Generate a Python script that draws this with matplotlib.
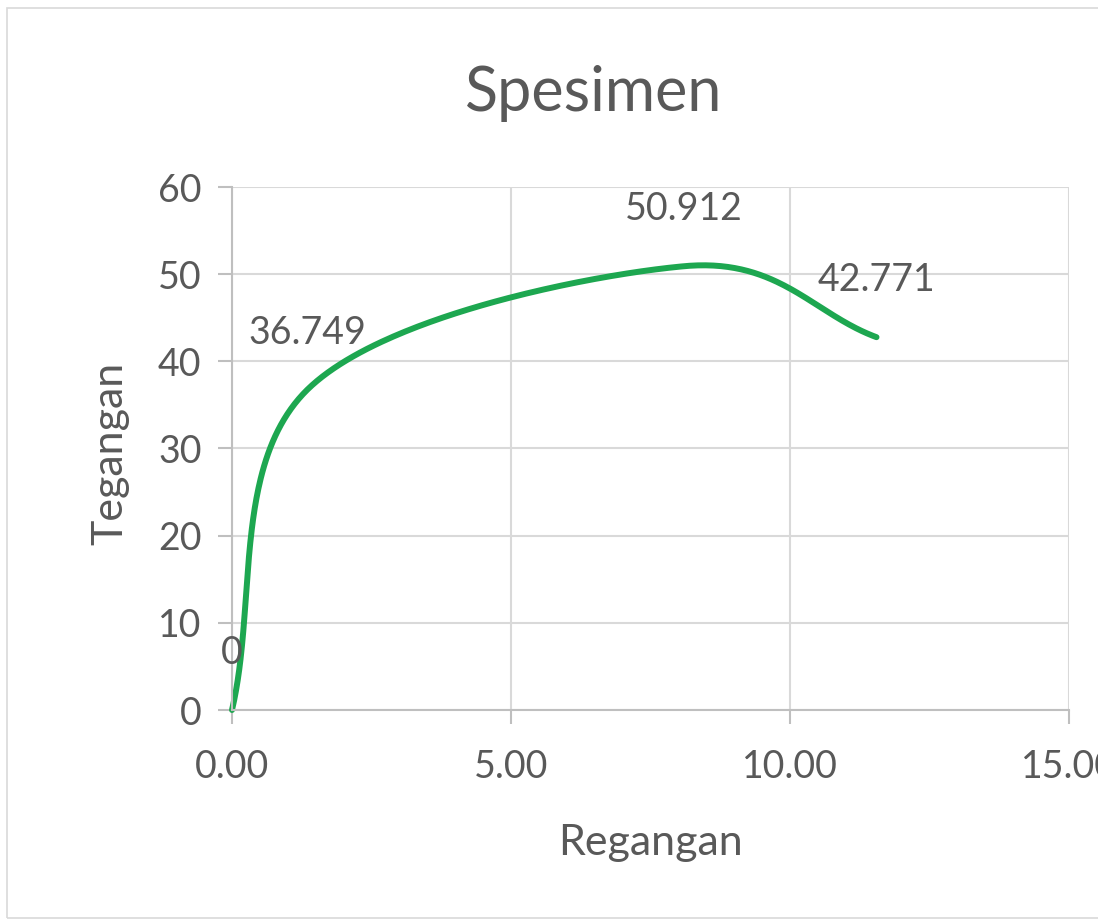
import numpy as np
import matplotlib
matplotlib.use("Agg")
import matplotlib.pyplot as plt
from matplotlib.patches import Rectangle

# Data
regangan = [0.0, 1.35, 8.10, 11.55]
tegangan = [0.0, 36.749, 50.912, 42.771]
labels = ["0", "36.749", "50.912", "42.771"]
xticks = [0, 5, 10, 15]
yticks = [0, 10, 20, 30, 40, 50, 60]

W, H = 1098, 922
fig = plt.figure(figsize=(W / 100, H / 100), dpi=100)
plt.rcParams['font.family'] = ['Lato', 'DejaVu Sans']
txt = '#595959'
grid = '#D9D9D9'

fig.patches.append(Rectangle((7 / W, 4 / H), 1.2, (914 - 4) / H, transform=fig.transFigure,
                             fill=False, edgecolor='#D9D9D9', linewidth=1.2))

ax = fig.add_axes([232 / W, (H - 710) / H, (1069 - 232) / W, (710 - 187) / H])
ax.set_xlim(0, 15)
ax.set_ylim(0, 60)
ax.set_xticks(xticks)
ax.set_yticks(yticks)
ax.set_xticklabels([f"{v:.2f}" for v in xticks])
ax.grid(True, color=grid, linewidth=1.5)
ax.set_axisbelow(True)
for s in ['top', 'right']:
    ax.spines[s].set_visible(False)
for s in ['left', 'bottom']:
    ax.spines[s].set_color('#BFBFBF')
    ax.spines[s].set_linewidth(1.5)
ax.tick_params(axis='both', colors='#BFBFBF', labelcolor=txt, labelsize=27, length=10, width=1.5)
ax.tick_params(axis='x', pad=18)
ax.tick_params(axis='y', pad=12)

# Excel-like smoothed line (Bezier, computed in display space)
P = ax.transData.transform(np.column_stack([regangan, tegangan]))
n = len(P)
pts = []
for i in range(n - 1):
    p0, p1 = P[i], P[i + 1]
    if i == 0:
        c1 = p0 + (p1 - p0) / 3
    else:
        c1 = p0 + (p1 - P[i - 1]) / 6
    if i == n - 2:
        c2 = p1 - (p1 - p0) / 3
    else:
        c2 = p1 - (P[i + 2] - p0) / 6
    t = np.linspace(0, 1, 100)[:, None]
    seg = (1 - t) ** 3 * p0 + 3 * (1 - t) ** 2 * t * c1 + 3 * (1 - t) * t ** 2 * c2 + t ** 3 * p1
    pts.append(seg)
curve = ax.transData.inverted().transform(np.vstack(pts))
ax.plot(curve[:, 0], curve[:, 1], color='#1DA750', linewidth=4.3, solid_capstyle='round', clip_on=False)

for x, y, l in zip(regangan, tegangan, labels):
    ax.annotate(l, (x, y), xytext=(0, 41), textcoords='offset points', ha='center', va='center',
                fontsize=27, color=txt)

fig.text(594 / W, 1 - 93 / H, "Spesimen", ha='center', va='center', fontsize=44, color=txt)
fig.text(650 / W, 1 - 843 / H, "Regangan", ha='center', va='center', fontsize=31, color=txt)
fig.text(110 / W, 1 - 453 / H, "Tegangan", ha='center', va='center', rotation=90, fontsize=31, color=txt)

fig.savefig("out.png", dpi=100)
